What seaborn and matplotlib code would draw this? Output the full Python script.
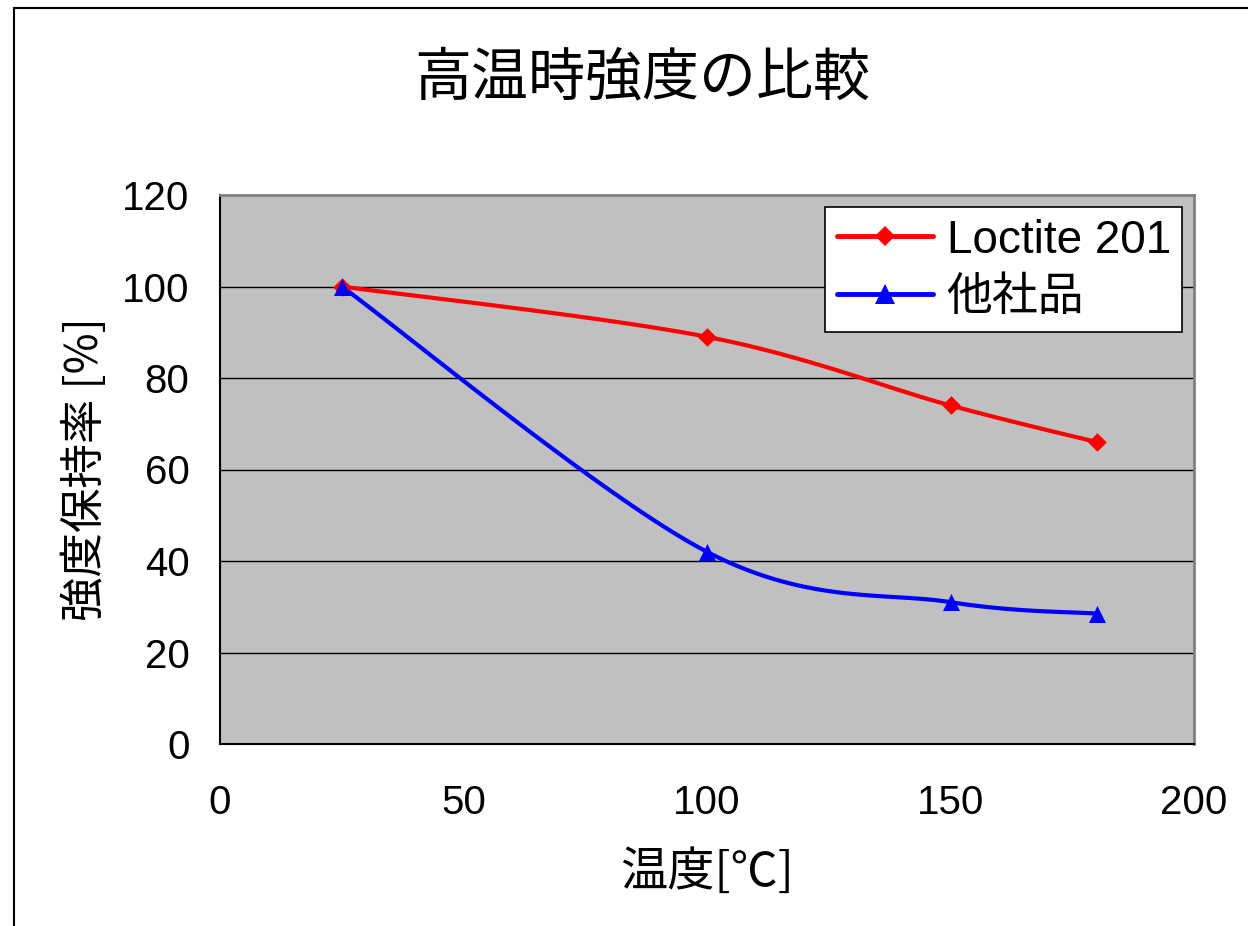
import numpy as np
import pandas as pd
import matplotlib
matplotlib.use("Agg")
import matplotlib.pyplot as plt
from matplotlib.lines import Line2D
import seaborn as sns

# ---- data ----
temps = [25, 100, 150, 180]
loctite = [100, 89, 74, 66]
others = [100, 42, 31, 28.5]
series_names = ["Loctite 201", "他社品"]
title = "高温時強度の比較"
xlabel = "温度[℃]"
ylabel = "強度保持率 [%]"
xticks = [0, 50, 100, 150, 200]
yticks = [0, 20, 40, 60, 80, 100, 120]

sns.set_theme(style="white")
plt.rcParams['font.family'] = ['Liberation Sans', 'Noto Sans CJK JP', 'DejaVu Sans']
plt.rcParams['text.color'] = 'black'
plt.rcParams['axes.labelcolor'] = 'black'
plt.rcParams['xtick.color'] = 'black'
plt.rcParams['ytick.color'] = 'black'
CJK = ['Noto Sans CJK JP', 'Liberation Sans']


def excel_smooth(xs, ys, n=40):
    """Rendering helper: Excel-style smoothed line through the data points."""
    P = np.column_stack([xs, ys]).astype(float)
    m = len(P)
    out = []
    for i in range(m - 1):
        p0 = P[i - 1] if i > 0 else P[i]
        p1 = P[i]
        p2 = P[i + 1]
        p3 = P[i + 2] if i + 2 < m else P[i + 1]
        c1 = p1 + (p2 - p0) / 6.0
        c2 = p2 - (p3 - p1) / 6.0
        t = np.linspace(0, 1, n)[:, None]
        seg = ((1 - t) ** 3) * p1 + 3 * ((1 - t) ** 2) * t * c1 + 3 * (1 - t) * t ** 2 * c2 + t ** 3 * p2
        out.append(seg if i == 0 else seg[1:])
    s = np.vstack(out)
    return s[:, 0], s[:, 1]


fig = plt.figure(figsize=(12.48, 9.26), dpi=100)
ax = fig.add_axes([220 / 1248, 1 - 744 / 926, (1194 - 220) / 1248, (744 - 195) / 926])
ax.set_facecolor("#c0c0c0")

colors = ["#ff0000", "#0000ff"]
markers = ["D", "^"]
msizes = [90, 150]
for name, vals, c, mk, ms in zip(series_names, [loctite, others], colors, markers, msizes):
    sx, sy = excel_smooth(temps, vals)
    sns.lineplot(x=sx, y=sy, ax=ax, color=c, lw=3, sort=False, estimator=None, zorder=3)
    sns.scatterplot(x=temps, y=vals, ax=ax, color=c, marker=mk, s=ms, edgecolor=c, linewidth=0, zorder=4)

ax.set_xlim(0, 200)
ax.set_ylim(0, 120)
ax.set_xticks(xticks)
ax.set_yticks(yticks)
ax.tick_params(axis="both", labelsize=29, colors="black", direction="out", length=8, width=1.2)
ax.tick_params(axis="x", pad=21)
ax.tick_params(axis="y", pad=14)
for v in yticks[1:-1]:
    ax.axhline(v, color="black", lw=1, zorder=1)
for side in ["top", "right"]:
    ax.spines[side].set_color("#808080")
    ax.spines[side].set_linewidth(2)
for side in ["left", "bottom"]:
    ax.spines[side].set_color("black")
    ax.spines[side].set_linewidth(1.5)

ax.set_xlabel(xlabel, fontsize=34, labelpad=19, family=CJK)
ax.set_ylabel(ylabel, fontsize=32, labelpad=10, family=CJK)
fig.text(0.515, 1 - 78 / 926, title, fontsize=41, ha="center", va="center", family=CJK)

handles = [Line2D([0], [0], color=c, lw=3.5, marker=mk, markersize=ms, markeredgewidth=0)
           for c, mk, ms in zip(colors, markers, [10, 14])]
leg = ax.legend(handles, series_names, loc="upper right", bbox_to_anchor=(0.988, 0.978),
                fontsize=33, frameon=True, fancybox=False, edgecolor="black",
                handlelength=2.1, borderpad=0.25, labelspacing=0.3, handletextpad=0.3,
                borderaxespad=0)
for t in leg.get_texts():
    t.set_family(['Liberation Sans', 'Noto Sans CJK JP'])
leg.get_frame().set_linewidth(1.2)
leg.get_frame().set_facecolor("white")
leg.get_frame().set_alpha(1)

# outer chart border (extends beyond figure on right/bottom)
fig.add_artist(Line2D([14 / 1248, 14 / 1248], [0, 1 - 8 / 926], color="black", lw=1.5, transform=fig.transFigure))
fig.add_artist(Line2D([14 / 1248, 1], [1 - 8 / 926, 1 - 8 / 926], color="black", lw=1.5, transform=fig.transFigure))

fig.savefig("out.png", dpi=100)
